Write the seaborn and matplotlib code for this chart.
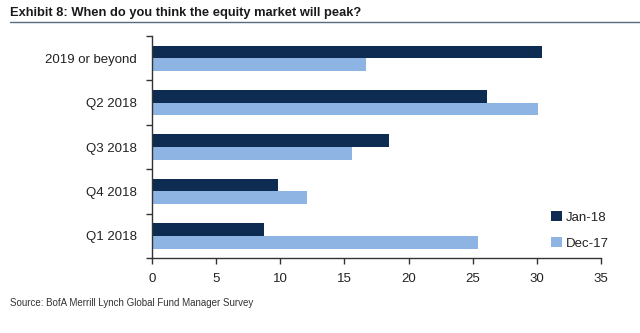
import matplotlib
matplotlib.use("Agg")
import matplotlib.pyplot as plt
import seaborn as sns
import pandas as pd
import numpy as np
from matplotlib.ticker import FixedLocator

# Survey answers (% of respondents)
categories = ["2019 or beyond", "Q2 2018", "Q3 2018", "Q4 2018", "Q1 2018"]
jan18 = [30.4, 26.1, 18.5, 9.8, 8.7]
dec17 = [16.7, 30.1, 15.6, 12.1, 25.4]
series_names = ["Jan-18", "Dec-17"]
x_ticks = [0, 5, 10, 15, 20, 25, 30, 35]

df = pd.DataFrame({
    "category": categories * 2,
    "value": jan18 + dec17,
    "series": [series_names[0]] * len(categories) + [series_names[1]] * len(categories),
})

sns.set_theme(style="white")
plt.rcParams["font.family"] = ["Liberation Sans", "DejaVu Sans"]

fig = plt.figure(figsize=(6.4, 3.33), dpi=100)
ax = fig.add_axes([0.2375, 0.225, 0.7015, 0.667])

palette = {"Jan-18": "#0e2b52", "Dec-17": "#8db4e2"}
sns.barplot(data=df, y="category", x="value", hue="series", order=categories,
            hue_order=series_names, palette=palette, orient="h", width=0.57,
            saturation=1, edgecolor="none", ax=ax)

ax.set_xlim(0, 35)
ax.set_ylim(len(categories) - 0.5, -0.5)
ax.set_xticks(x_ticks)
ax.set_xticklabels([str(t) for t in x_ticks])
ax.set_xlabel("")
ax.set_ylabel("")

# category labels without ticks; ticks drawn at the boundaries
ax.tick_params(axis="y", which="major", length=0, pad=11, labelsize=9.5, colors="#222222")
ax.yaxis.set_minor_locator(FixedLocator(np.arange(-0.5, len(categories), 1.0)))
ax.tick_params(axis="y", which="minor", length=4, width=1, color="#333333", direction="out", left=True)
ax.tick_params(axis="x", length=4, width=1, color="#333333", direction="out", bottom=True,
               labelsize=9.5, pad=7)
for lbl in ax.get_xticklabels():
    lbl.set_color("#222222")

sns.despine(ax=ax, top=True, right=True)
for side in ("left", "bottom"):
    ax.spines[side].set_color("#333333")
    ax.spines[side].set_linewidth(1.0)

leg = ax.legend(loc="lower right", bbox_to_anchor=(1.045, -0.015), frameon=False,
                fontsize=9.5, handlelength=0.8, handleheight=0.8, handletextpad=0.35,
                labelspacing=1.0)
for txt in leg.get_texts():
    txt.set_color("#222222")

fig.text(0.016, 0.96, "Exhibit 8: When do you think the equity market will peak?",
         fontsize=9.3, fontweight="bold", color="#1a1a1a", va="center")
fig.add_artist(plt.Line2D([0.016, 1.0], [0.934, 0.934], color="#5a6a7e", lw=1.0,
                          transform=fig.transFigure))
fig.text(0.016, 0.09, "Source: BofA Merrill Lynch Global Fund Manager Survey",
         fontsize=7, color="#333333", va="center")

fig.savefig("out.png", dpi=100, facecolor="white")
